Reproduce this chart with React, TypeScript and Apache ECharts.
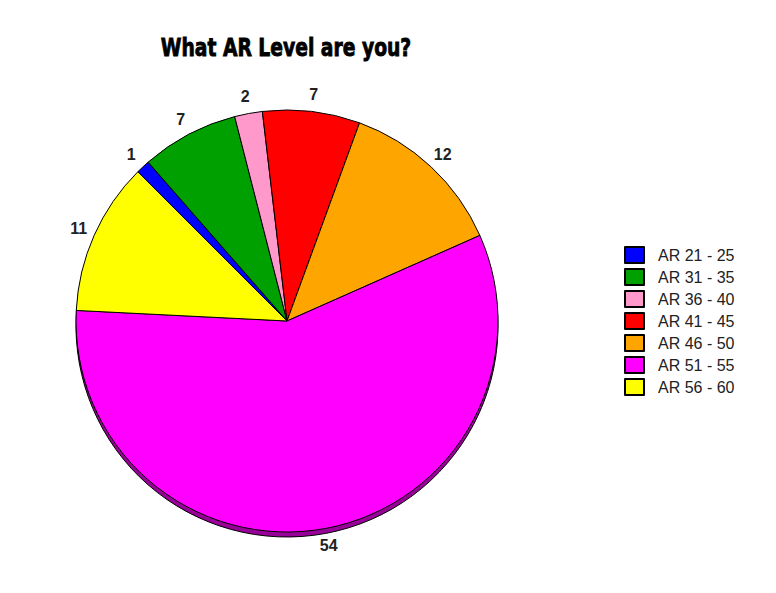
import React, { useEffect, useRef } from "react";
import * as echarts from "echarts";

const categories = ["AR 21 - 25", "AR 31 - 35", "AR 36 - 40", "AR 41 - 45", "AR 46 - 50", "AR 51 - 55", "AR 56 - 60"];
const values = [1, 7, 2, 7, 12, 54, 11];
const colors = ["#0000FF", "#00A000", "#FF99CC", "#FF0000", "#FFA500", "#FF00FF", "#FFFF00"];
const depthColors = ["#000099", "#006000", "#995C7A", "#990000", "#996300", "#990099", "#999900"];
const titleText = "What AR Level are you?";

export default function App() {
  const ref = useRef<HTMLDivElement>(null);
  useEffect(() => {
    if (!ref.current) return;
    const chart = echarts.init(ref.current, null, { renderer: "svg" });
    const center = [287, 321];
    const r = 211;
    chart.setOption({
      animation: false,
      backgroundColor: "#FFFFFF",
      graphic: [
        {
          type: "text",
          x: 286,
          y: 47,
          scaleX: 0.75,
          silent: true,
          style: {
            text: titleText,
            x: 0,
            y: 0,
            align: "center",
            verticalAlign: "middle",
            fontFamily: "'DejaVu Sans', sans-serif",
            fontWeight: "bold",
            fontSize: 25,
            fill: "#000000",
            stroke: "#000000",
            lineWidth: 0.9,
          },
        },
      ],
      legend: {
        orient: "vertical",
        left: 619,
        top: 241,
        itemWidth: 19,
        itemHeight: 16,
        itemGap: 4,
        icon: "rect",
        selectedMode: false,
        data: categories,
        textStyle: {
          fontFamily: "'Liberation Sans', Arial, sans-serif",
          fontSize: 16,
          color: "#222222",
          padding: [0, 0, 0, 9],
        },
      },
      series: [
        {
          type: "pie",
          center,
          radius: r,
          startAngle: 135,
          clockwise: true,
          z: 3,
          silent: true,
          label: { show: false },
          labelLine: { show: false },
          emphasis: { disabled: true },
          itemStyle: { borderColor: "#000000", borderWidth: 1 },
          data: categories.map((n, i) => ({ name: n, value: values[i], itemStyle: { color: colors[i] } })),
        },
        {
          type: "pie",
          center: [center[0], center[1] + 5],
          radius: r,
          startAngle: 135,
          clockwise: true,
          z: 2,
          silent: true,
          legendHoverLink: false,
          label: { show: false },
          labelLine: { show: false },
          emphasis: { disabled: true },
          itemStyle: { borderColor: "#000000", borderWidth: 1 },
          data: categories.map((n, i) => ({ name: n, value: values[i], itemStyle: { color: depthColors[i] } })),
        },
        {
          type: "pie",
          center,
          radius: [217, 233],
          startAngle: 135,
          clockwise: true,
          z: 4,
          silent: true,
          legendHoverLink: false,
          labelLine: { show: false },
          emphasis: { disabled: true },
          itemStyle: { color: "rgba(0,0,0,0)", borderWidth: 0 },
          label: {
            show: true,
            position: "inside",
            rotate: 0,
            formatter: "{c}",
            fontFamily: "'Liberation Sans', Arial, sans-serif",
            fontWeight: "bold",
            fontSize: 16,
            color: "#222222",
          },
          data: categories.map((n, i) => ({ name: n, value: values[i] })),
        },
      ],
    });
    return () => chart.dispose();
  }, []);
  return <div ref={ref} style={{ position: "fixed", left: 0, top: 0, width: 776, height: 593 }} />;
}
